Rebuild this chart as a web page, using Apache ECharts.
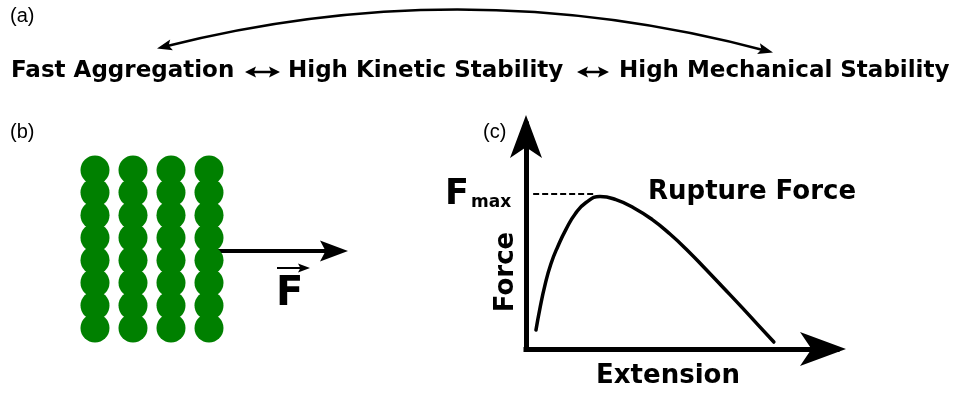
<!DOCTYPE html>
<html><head><meta charset="utf-8">
<script src="https://cdn.jsdelivr.net/npm/echarts@6/dist/echarts.min.js"></script>
<style>html,body{margin:0;padding:0;background:#fff}#c{width:957px;height:394px}</style>
</head><body><div id="c"></div>
<script>
// ---- data ----
const panelLabels = ['(a)', '(b)', '(c)'];
const stabilityTerms = ['Fast Aggregation', 'High Kinetic Stability', 'High Mechanical Stability'];
// panel (b): fibril made of 4 columns x 8 rows of beads
const beadColumns = [1, 2, 3, 4];
const beadRows = [1, 2, 3, 4, 5, 6, 7, 8];
// panel (c): force-extension curve (extension %, force %)
const extension = [3.2, 4.5, 6.1, 8.0, 10.3, 12.9, 15.8, 19.3, 23.8, 28.9, 34.7, 40.5, 46.3, 52.1, 57.9, 63.7, 69.5, 74.6, 79.7];
const force =     [8.4, 18.2, 28.4, 37.8, 45.8, 53.3, 60.0, 65.1, 67.8, 66.4, 62.7, 57.6, 51.1, 43.6, 35.3, 26.9, 18.4, 10.7, 3.1];
const fmaxLevel = 68.9;
const fmaxExt = [2.3, 22.5];
const axisNames = ['Extension', 'Force'];
const ruptureLabel = 'Rupture Force';

const BOLD = '"DejaVu Sans", sans-serif';
const REG = '"Liberation Sans", Arial, sans-serif';

function arrowHead(tx, ty, dx, dy, len, hw) {
  const n = Math.hypot(dx, dy); dx /= n; dy /= n;
  const px = -dy, py = dx;
  return { type: 'polygon', shape: { points: [
    [tx, ty],
    [tx - len * dx + hw * px, ty - len * dy + hw * py],
    [tx - 0.8 * len * dx, ty - 0.8 * len * dy],
    [tx - len * dx - hw * px, ty - len * dy - hw * py]
  ] }, style: { fill: '#000' } };
}
function txt(x, y, s, size, font, weight, extra) {
  return Object.assign({ type: 'text', x: x, y: y, style: {
    text: s, font: (weight || 'normal') + ' ' + size + 'px ' + font, fill: '#000',
    verticalAlign: 'middle', align: 'left' } }, extra || {});
}

const beadData = [];
beadColumns.forEach(c => beadRows.forEach(r => beadData.push([c, r])));

const graphics = [
  txt(10, 16, panelLabels[0], 20, REG),
  txt(10, 132, panelLabels[1], 20, REG),
  txt(483, 132, panelLabels[2], 20, REG),
  txt(11, 71, stabilityTerms[0], 23, BOLD, 'bold'),
  txt(288, 71, stabilityTerms[1], 23, BOLD, 'bold'),
  txt(619, 71, stabilityTerms[2], 23, BOLD, 'bold'),
  // double arrows
  { type: 'line', shape: { x1: 252, y1: 72, x2: 273, y2: 72 }, style: { stroke: '#000', lineWidth: 2.5 } },
  arrowHead(245, 72, -1, 0, 11, 5.5), arrowHead(280, 72, 1, 0, 11, 5.5),
  { type: 'line', shape: { x1: 584, y1: 72, x2: 602, y2: 72 }, style: { stroke: '#000', lineWidth: 2.5 } },
  arrowHead(577, 72, -1, 0, 11, 5.5), arrowHead(609, 72, 1, 0, 11, 5.5),
  // arc
  { type: 'bezierCurve', shape: { x1: 163, y1: 47, x2: 767, y2: 51, cpx1: 465, cpy1: -30 }, style: { stroke: '#000', lineWidth: 2.4, fill: null } },
  arrowHead(157, 48.5, -307, 78, 15, 5.5), arrowHead(773, 52.5, 307, 82, 15, 5.5),
  // panel b arrow
  { type: 'line', shape: { x1: 218, y1: 251, x2: 330, y2: 251 }, style: { stroke: '#000', lineWidth: 4 } },
  arrowHead(348, 251, 1, 0, 28, 10.5),
  txt(276, 295, 'F', 40, BOLD, 'bold'),
  { type: 'line', shape: { x1: 277, y1: 268, x2: 302, y2: 268 }, style: { stroke: '#000', lineWidth: 2 } },
  arrowHead(310, 268, 1, 0, 12, 4.5),
  // panel c texts
  txt(445, 195, 'F', 35, BOLD, 'bold'),
  txt(471, 203, 'max', 17, BOLD, 'bold'),
  txt(648, 192, ruptureLabel, 26, BOLD, 'bold'),
  { type: 'text', x: 506, y: 272, rotation: Math.PI / 2, style: { text: axisNames[1], font: 'bold 26px ' + BOLD, fill: '#000', align: 'center', verticalAlign: 'middle' } },
  { type: 'text', x: 668, y: 376, style: { text: axisNames[0], font: 'bold 26px ' + BOLD, fill: '#000', align: 'center', verticalAlign: 'middle' } }
];

const chart = echarts.init(document.getElementById('c'), null, { renderer: 'canvas' });
const axisLineC = (sz) => ({ show: true, symbol: ['none', 'arrow'], symbolSize: sz, symbolOffset: [0, 9], lineStyle: { color: '#000', width: 5, cap: 'square' } });
chart.setOption({
  animation: false,
  grid: [
    { left: 526, top: 124, width: 311, height: 225 },
    { left: 95, top: 170, width: 114, height: 158 }
  ],
  xAxis: [
    { gridIndex: 0, type: 'value', min: 0, max: 100, axisLine: axisLineC([25.5, 46]), axisTick: { show: false }, axisLabel: { show: false }, splitLine: { show: false } },
    { gridIndex: 1, type: 'value', min: 1, max: 4, show: false }
  ],
  yAxis: [
    { gridIndex: 0, type: 'value', min: 0, max: 100, axisLine: axisLineC([24, 43]), axisTick: { show: false }, axisLabel: { show: false }, splitLine: { show: false } },
    { gridIndex: 1, type: 'value', min: 1, max: 8, inverse: true, show: false }
  ],
  series: [
    { type: 'line', xAxisIndex: 0, yAxisIndex: 0, smooth: 0.5, symbol: 'none',
      data: extension.map((x, i) => [x, force[i]]), lineStyle: { color: '#000', width: 3.5, join: 'round', cap: 'round' } },
    { type: 'line', xAxisIndex: 0, yAxisIndex: 0, symbol: 'none',
      data: [[fmaxExt[0], fmaxLevel], [fmaxExt[1], fmaxLevel]], lineStyle: { color: '#000', width: 2.2, type: [6, 3] } },
    { type: 'scatter', xAxisIndex: 1, yAxisIndex: 1, symbol: 'circle', symbolSize: 29,
      data: beadData, itemStyle: { color: '#008000', opacity: 1 } }
  ],
  graphic: graphics
});
</script></body></html>
